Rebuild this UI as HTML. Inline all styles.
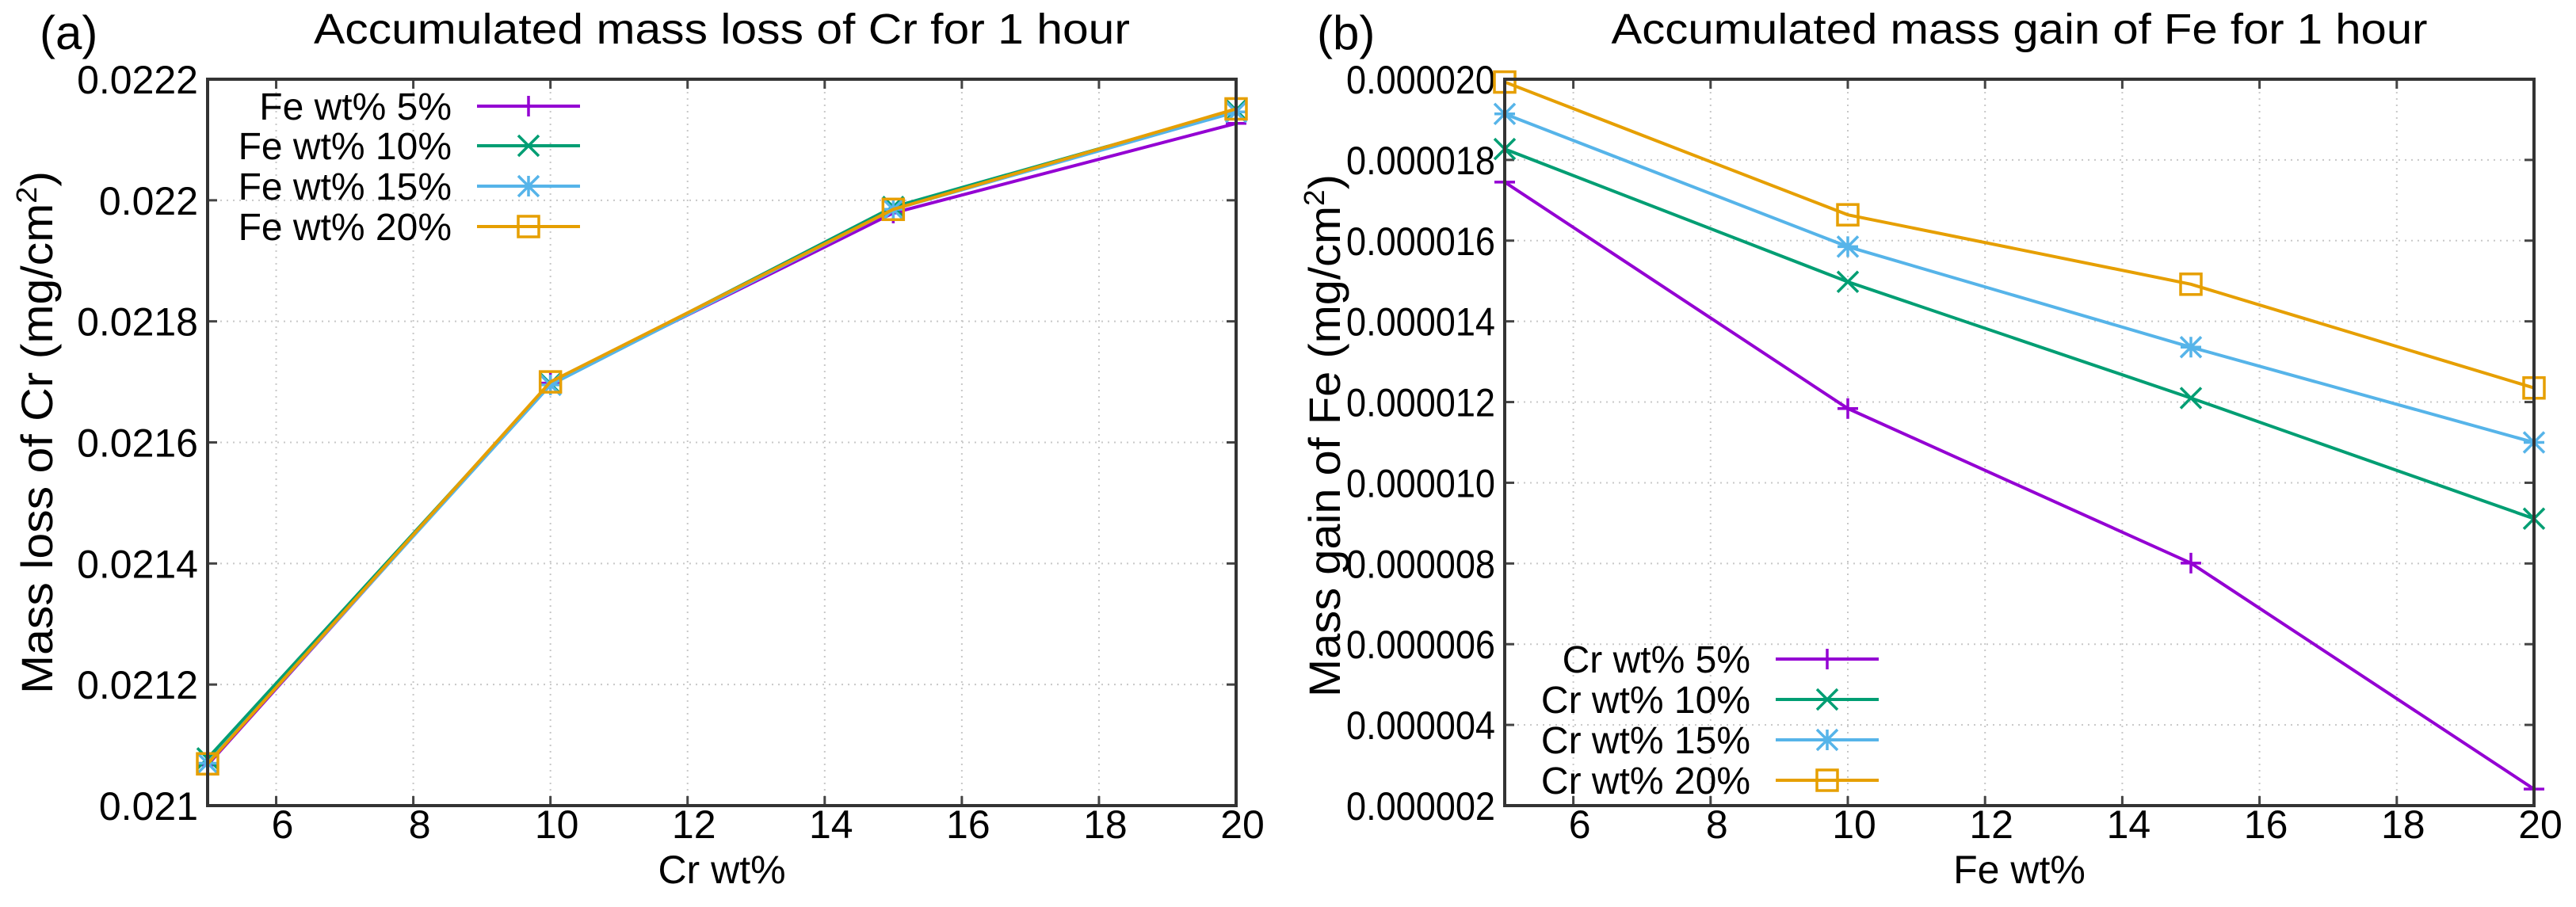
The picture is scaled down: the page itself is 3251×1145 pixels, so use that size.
<!DOCTYPE html>
<html><head><meta charset="utf-8"><style>
html,body{margin:0;padding:0;background:#fff;}
svg{display:block;font-family:"Liberation Sans",sans-serif;}
</style></head><body>
<svg id="fig" width="3251" height="1145" viewBox="0 0 3251 1145" xmlns="http://www.w3.org/2000/svg"></svg>
<script>
// ---------- data ----------
const xCats = [5, 10, 15, 20];
const xTicks = [6, 8, 10, 12, 14, 16, 18, 20];
const xTickLabels = ["6", "8", "10", "12", "14", "16", "18", "20"];

const aYTicks = [0.021, 0.0212, 0.0214, 0.0216, 0.0218, 0.022, 0.0222];
const aYTickLabels = ["0.021", "0.0212", "0.0214", "0.0216", "0.0218", "0.022", "0.0222"];
const aFe5 = [0.021067, 0.021698, 0.021979, 0.022127];
const aFe10 = [0.021078, 0.021697, 0.021989, 0.022149];
const aFe15 = [0.021070, 0.021695, 0.021985, 0.022146];
const aFe20 = [0.021069, 0.021700, 0.021985, 0.022151];
const aLabels = ["Fe wt% 5%", "Fe wt% 10%", "Fe wt% 15%", "Fe wt% 20%"];

const bYTicks = [0.000002, 0.000004, 0.000006, 0.000008, 0.00001, 0.000012, 0.000014, 0.000016, 0.000018, 0.00002];
const bYTickLabels = ["0.000002", "0.000004", "0.000006", "0.000008", "0.000010", "0.000012", "0.000014", "0.000016", "0.000018", "0.000020"];
const bCr5 = [0.00001745, 0.00001184, 0.00000801, 0.00000241];
const bCr10 = [0.00001827, 0.00001498, 0.0000121, 0.00000911];
const bCr15 = [0.00001914, 0.00001585, 0.00001336, 0.0000110];
const bCr20 = [0.00001993, 0.00001664, 0.00001492, 0.00001235];
const bLabels = ["Cr wt% 5%", "Cr wt% 10%", "Cr wt% 15%", "Cr wt% 20%"];

const colors = ["#9400d3", "#009e73", "#56b4e9", "#e69f00"];
const markers = ["plus", "cross", "star", "square"];

const NS = "http://www.w3.org/2000/svg";
const svg = document.getElementById("fig");
function mk(tag, attrs, parent) {
  const e = document.createElementNS(NS, tag);
  for (const k in attrs) e.setAttribute(k, attrs[k]);
  (parent || svg).appendChild(e);
  return e;
}
function txt(s, attrs, parent) { const t = mk("text", attrs, parent); t.textContent = s; return t; }

function marker(g, type, x, y, c) {
  const s = 13;
  const st = {stroke: c, "stroke-width": 3.5, fill: "none"};
  if (type === "plus") {
    const p = mk("path", Object.assign({d: `M${x-s},${y}H${x+s}M${x},${y-s}V${y+s}`}, st), g);
    
    
  } else if (type === "cross") {
    const p = mk("path", Object.assign({d: `M${x-s},${y-s}L${x+s},${y+s}M${x-s},${y+s}L${x+s},${y-s}`}, st), g);
    
    
  } else if (type === "star") {
    const p = mk("path", Object.assign({d: `M${x-s},${y}H${x+s}M${x},${y-s}V${y+s}M${x-s},${y-s}L${x+s},${y+s}M${x-s},${y+s}L${x+s},${y-s}`}, st), g);
    
    
  } else {
    const p = mk("rect", Object.assign({x: x-s, y: y-s, width: 2*s, height: 2*s}, st), g);
    
    
  }
}

function panel(o) {
  const g = mk("g", {});
  
  
  const L = o.left, R = o.right, T = 100, B = 1017;
  const xs = v => L + (v - 5) / 15 * (R - L);
  const ymin = o.yTicks[0], ymax = o.yTicks[o.yTicks.length - 1];
  const ys = v => B - (v - ymin) / (ymax - ymin) * (B - T);

  // grid
  const grid = mk("g", {stroke: "#c8c8c8", "stroke-width": 2, "stroke-dasharray": "2,6"}, g);
  
  
  xTicks.forEach(v => { if (v < 20) mk("line", {x1: xs(v), x2: xs(v), y1: T, y2: B}, grid); });
  o.yTicks.forEach((v, i) => { if (i > 0 && i < o.yTicks.length - 1) mk("line", {x1: L, x2: R, y1: ys(v), y2: ys(v)}, grid); });

  // ticks
  const tk = mk("g", {stroke: "#444", "stroke-width": 3}, g);
  xTicks.forEach(v => { mk("line", {x1: xs(v), x2: xs(v), y1: B, y2: B - 12}, tk); mk("line", {x1: xs(v), x2: xs(v), y1: T, y2: T + 12}, tk); });
  o.yTicks.forEach(v => { mk("line", {x1: L, x2: L + 12, y1: ys(v), y2: ys(v)}, tk); mk("line", {x1: R, x2: R - 12, y1: ys(v), y2: ys(v)}, tk); });

  // tick labels
  xTicks.forEach((v, i) => {
    const t = txt(xTickLabels[i], {x: xs(v) + 8, y: 1058, "font-size": 50, "text-anchor": "middle", fill: "#000"}, g);
    
    
  });
  o.yTicks.forEach((v, i) => {
    const s = o.yTickLabels[i];
    const t = txt(s, {x: L - 12, y: ys(v) + 18, "font-size": 50, "text-anchor": "end", fill: "#000"}, g);
    if (o.condense) { t.setAttribute("textLength", s.length * 23.5); t.setAttribute("lengthAdjust", "spacingAndGlyphs"); }
    
    
  });

  // series
  o.series.forEach((arr, si) => {
    const sg = mk("g", {}, g);
    
    
    const pts = arr.map((v, i) => xs(xCats[i]) + "," + ys(v)).join(" ");
    mk("polyline", {points: pts, fill: "none", stroke: colors[si], "stroke-width": 4}, sg);
    arr.forEach((v, i) => marker(sg, markers[si], xs(xCats[i]), ys(v), colors[si]));
  });

  // frame
  const fr = mk("rect", {x: L, y: T, width: R - L, height: B - T, fill: "none", stroke: "#333", "stroke-width": 4}, g);
  
  

  // legend
  const lg = mk("g", {}, g);
  
  
  o.labels.forEach((s, i) => {
    const y = o.legY[i];
    const e = mk("g", {}, lg);
    
    
    txt(s, {x: o.legTextX, y: y + 17, "font-size": 48, "text-anchor": "end", fill: "#000"}, e);
    mk("line", {x1: o.legTextX + 32, x2: o.legTextX + 162, y1: y, y2: y, stroke: colors[i], "stroke-width": 4}, e);
    marker(e, markers[i], o.legTextX + 97, y, colors[i]);
  });

  // titles
  const ti = txt(o.title, {x: (L + R) / 2, y: 55, "font-size": 54, "text-anchor": "middle", fill: "#000", textLength: 1030, lengthAdjust: "spacingAndGlyphs"}, g);
  
  
  const xt = txt(o.xTitle, {x: (L + R) / 2, y: 1115, "font-size": 50, "text-anchor": "middle", fill: "#000"}, g);
  
  
  const yt = mk("text", {x: 0, y: 0, "font-size": 56, "text-anchor": "middle", fill: "#000", transform: `translate(${o.yTitleX},${o.yTitleY}) rotate(-90)`, textLength: 660, lengthAdjust: "spacingAndGlyphs"}, g);
  yt.innerHTML = o.yTitle + "<tspan dy='-20' font-size='36'>2</tspan><tspan dy='20'>)</tspan>";
  
  
  const pl = txt(o.panelLabel, {x: o.panelX, y: 62, "font-size": 60, fill: "#000"}, g);
  
  
}

panel({name: "panel-a", left: 262, right: 1560, yTicks: aYTicks, yTickLabels: aYTickLabels, condense: false,
  series: [aFe5, aFe10, aFe15, aFe20], labels: aLabels, legTextX: 570, legY: [134, 184, 235, 286],
  title: "Accumulated mass loss of Cr for 1 hour", xTitle: "Cr wt%", yTitle: "Mass loss of Cr (mg/cm",
  yTitleX: 66, yTitleY: 546, panelLabel: "(a)", panelX: 50});
panel({name: "panel-b", left: 1899, right: 3198, yTicks: bYTicks, yTickLabels: bYTickLabels, condense: true,
  series: [bCr5, bCr10, bCr15, bCr20], labels: bLabels, legTextX: 2209, legY: [832, 883, 934, 985],
  title: "Accumulated mass gain of Fe for 1 hour", xTitle: "Fe wt%", yTitle: "Mass gain of Fe (mg/cm",
  yTitleX: 1691, yTitleY: 550, panelLabel: "(b)", panelX: 1662});
</script>
</body></html>
